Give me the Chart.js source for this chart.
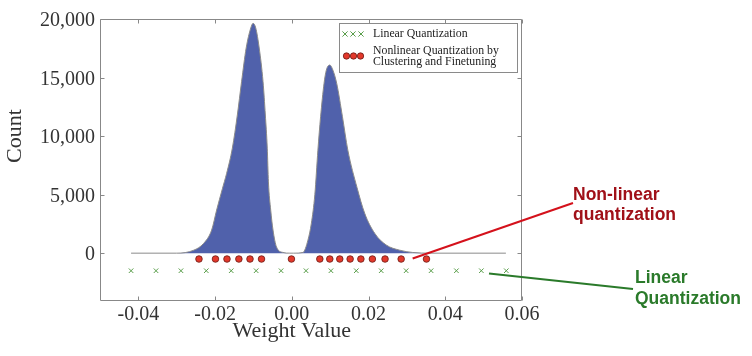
<!DOCTYPE html>
<html>
<head>
<meta charset="utf-8">
<script src="https://cdn.jsdelivr.net/npm/chart.js@4/dist/chart.umd.min.js"></script>
<style>
  html, body { margin: 0; padding: 0; background: #ffffff; }
  #wrap { width: 752px; height: 356px; position: relative; }
</style>
</head>
<body>
<div id="wrap"><canvas id="c"></canvas></div>
<script>
// ---- Data ----
const weightBins = [
  -0.0419, -0.0300, -0.0256, -0.0230, -0.0209, -0.0196, -0.0181, -0.0170, -0.0155,
  -0.0142, -0.0131, -0.0119, -0.0107, -0.0101, -0.0094, -0.0085, -0.0075, -0.0069,
  -0.0064, -0.0061, -0.0055, -0.0049, -0.0040, -0.0023, -0.0005,
  0.0005, 0.0029, 0.0042, 0.0051, 0.0060, 0.0068, 0.0075, 0.0084, 0.0090, 0.0099,
  0.0107, 0.0117, 0.0132, 0.0146, 0.0170, 0.0190, 0.0216, 0.0246, 0.0281, 0.0315,
  0.0360, 0.0558
];
const counts = [
  0, 0, 250, 830, 1970, 3680, 5500, 6800, 8970,
  11800, 14640, 17520, 19230, 19630, 19230, 17520, 14640, 11800,
  8970, 6090, 3680, 1970, 540, 60, 0,
  0, 60, 1110, 2560, 5000, 8800, 11650, 14500, 15640, 16070,
  15640, 14500, 11650, 8800, 5600, 3400, 1700, 700, 256, 60,
  0, 0
];
const nonlinearCenters = [
  -0.0242, -0.0199, -0.0169, -0.0138, -0.0109, -0.0079, -0.0001,
  0.0073, 0.0099, 0.0125, 0.0152, 0.0180, 0.0210, 0.0243, 0.0285, 0.0351
];
const nonlinearLevel = -500;
const linearCenters = [
  -0.0419, -0.0354, -0.0289, -0.0223, -0.0158, -0.0093, -0.0028, 0.0037,
  0.0102, 0.0168, 0.0233, 0.0298, 0.0363, 0.0429, 0.0494, 0.0559
];
const linearLevel = -1500;
const xTickValues = [-0.04, -0.02, 0.00, 0.02, 0.04, 0.06];
const yTickValues = [0, 5000, 10000, 15000, 20000];
const legendLabels = ['Linear Quantization', 'Nonlinear Quantization by', 'Clustering and Finetuning'];
const annotationNonlinear = ['Non-linear', 'quantization'];
const annotationLinear = ['Linear', 'Quantization'];
const axisTitles = { x: 'Weight Value', y: 'Count' };

const SERIF = "'Liberation Serif', 'Times New Roman', serif";
const SANS = "'Liberation Sans', Arial, sans-serif";

const overlay = {
  id: 'overlay',
  afterDraw(chart) {
    const { ctx, chartArea: a, scales } = chart;
    const xs = scales.x, ys = scales.y;
    ctx.save();

    // frame
    const L = Math.round(a.left) + 0.5, R = Math.round(a.right) - 0.5;
    const T = Math.round(a.top) + 0.5, B = Math.round(a.bottom) + 0.5;
    ctx.strokeStyle = '#888888';
    ctx.lineWidth = 1;
    ctx.beginPath();
    ctx.moveTo(L, T); ctx.lineTo(R, T); ctx.lineTo(R, B); ctx.lineTo(L, B); ctx.closePath();
    ctx.stroke();
    // inward ticks
    ctx.beginPath();
    xTickValues.forEach(v => {
      const px = Math.round(xs.getPixelForValue(v)) + 0.5;
      ctx.moveTo(px, B); ctx.lineTo(px, B - 4);
      ctx.moveTo(px, T); ctx.lineTo(px, T + 4);
    });
    yTickValues.forEach(v => {
      const py = Math.round(ys.getPixelForValue(v)) + 0.5;
      ctx.moveTo(L, py); ctx.lineTo(L + 4, py);
      ctx.moveTo(R, py); ctx.lineTo(R - 4, py);
    });
    ctx.stroke();

    // axis titles
    ctx.fillStyle = '#333333';
    ctx.font = '22px ' + SERIF;
    ctx.textAlign = 'center';
    ctx.textBaseline = 'alphabetic';
    ctx.fillText(axisTitles.x, xs.getPixelForValue(0), 337);
    ctx.save();
    ctx.translate(21, (a.top + ys.getPixelForValue(0)) / 2);
    ctx.rotate(-Math.PI / 2);
    ctx.fillText(axisTitles.y, 0, 0);
    ctx.restore();

    // legend box
    const lx = 339, ly = 23, lw = 178, lh = 49;
    ctx.fillStyle = '#ffffff';
    ctx.fillRect(lx, ly, lw, lh);
    ctx.strokeStyle = '#8a8a8a';
    ctx.strokeRect(lx + 0.5, ly + 0.5, lw, lh);
    // green crosses
    ctx.strokeStyle = '#5a9e4b';
    ctx.lineWidth = 1;
    [345, 353, 361].forEach(cx => {
      const cy = 34, r = 2.6;
      ctx.beginPath();
      ctx.moveTo(cx - r, cy - r); ctx.lineTo(cx + r, cy + r);
      ctx.moveTo(cx + r, cy - r); ctx.lineTo(cx - r, cy + r);
      ctx.stroke();
    });
    // red circles
    [346.5, 353.5, 360.5].forEach(cx => {
      ctx.beginPath();
      ctx.arc(cx, 56, 3.2, 0, Math.PI * 2);
      ctx.fillStyle = '#e2382b';
      ctx.fill();
      ctx.strokeStyle = '#6b1a14';
      ctx.lineWidth = 0.8;
      ctx.stroke();
    });
    ctx.fillStyle = '#222222';
    ctx.font = '11.8px ' + SERIF;
    ctx.textAlign = 'left';
    ctx.textBaseline = 'middle';
    ctx.fillText(legendLabels[0], 373, 34);
    ctx.fillText(legendLabels[1], 373, 50.5);
    ctx.fillText(legendLabels[2], 373, 61.5);

    // annotation: non-linear
    ctx.strokeStyle = '#d4111b';
    ctx.lineWidth = 2;
    ctx.beginPath();
    ctx.moveTo(xs.getPixelForValue(0.0315), ys.getPixelForValue(-450));
    ctx.lineTo(573, 203);
    ctx.stroke();
    ctx.fillStyle = '#a01018';
    ctx.font = 'bold 17.5px ' + SANS;
    ctx.textAlign = 'left';
    ctx.textBaseline = 'middle';
    ctx.fillText(annotationNonlinear[0], 573, 195);
    ctx.fillText(annotationNonlinear[1], 573, 215);

    // annotation: linear
    ctx.strokeStyle = '#2a7a2a';
    ctx.lineWidth = 2;
    ctx.beginPath();
    ctx.moveTo(xs.getPixelForValue(0.0514), ys.getPixelForValue(-1735));
    ctx.lineTo(633, 289);
    ctx.stroke();
    ctx.fillStyle = '#2a7a2a';
    ctx.fillText(annotationLinear[0], 635, 278);
    ctx.fillText(annotationLinear[1], 635, 299);

    ctx.restore();
  }
};

new Chart(document.getElementById('c'), {
  type: 'scatter',
  data: {
    datasets: [
      {
        label: 'Weight distribution',
        data: weightBins.map((w, i) => ({ x: w, y: counts[i] })),
        showLine: true,
        fill: 'origin',
        backgroundColor: '#5061ab',
        borderColor: '#8a8a8a',
        borderWidth: 1,
        pointRadius: 0,
        cubicInterpolationMode: 'monotone',
        order: 3
      },
      {
        label: legendLabels[1] + ' ' + legendLabels[2],
        data: nonlinearCenters.map(v => ({ x: v, y: nonlinearLevel })),
        pointStyle: 'circle',
        pointRadius: 3.3,
        backgroundColor: '#e2382b',
        borderColor: '#6b1a14',
        borderWidth: 0.8,
        order: 1
      },
      {
        label: legendLabels[0],
        data: linearCenters.map(v => ({ x: v, y: linearLevel })),
        pointStyle: 'crossRot',
        pointRadius: 3.2,
        borderColor: '#5a9e4b',
        backgroundColor: '#5a9e4b',
        borderWidth: 1,
        order: 2
      }
    ]
  },
  options: {
    responsive: true,
    maintainAspectRatio: false,
    animation: false,
    layout: { padding: { left: 0, top: 19, right: 230, bottom: 0 } },
    plugins: { legend: { display: false }, tooltip: { enabled: false } },
    scales: {
      x: {
        type: 'linear',
        min: -0.05,
        max: 0.06,
        grid: { display: false, drawTicks: false },
        border: { display: false },
        afterBuildTicks: s => { s.ticks = xTickValues.map(v => ({ value: v })); },
        afterFit: s => { s.height = 56; },
        ticks: {
          padding: 3,
          color: '#333333',
          font: { family: SERIF, size: 20 },
          maxRotation: 0,
          callback: v => Number(v).toFixed(2)
        }
      },
      y: {
        type: 'linear',
        min: -4000,
        max: 20000,
        grid: { display: false, drawTicks: false },
        border: { display: false },
        afterBuildTicks: s => { s.ticks = yTickValues.map(v => ({ value: v })); },
        afterFit: s => { s.width = 100; },
        ticks: {
          padding: 5,
          labelOffset: 2,
          color: '#333333',
          font: { family: SERIF, size: 20 },
          callback: v => Number(v).toLocaleString('en-US')
        }
      }
    }
  },
  plugins: [overlay]
});
</script>
</body>
</html>
